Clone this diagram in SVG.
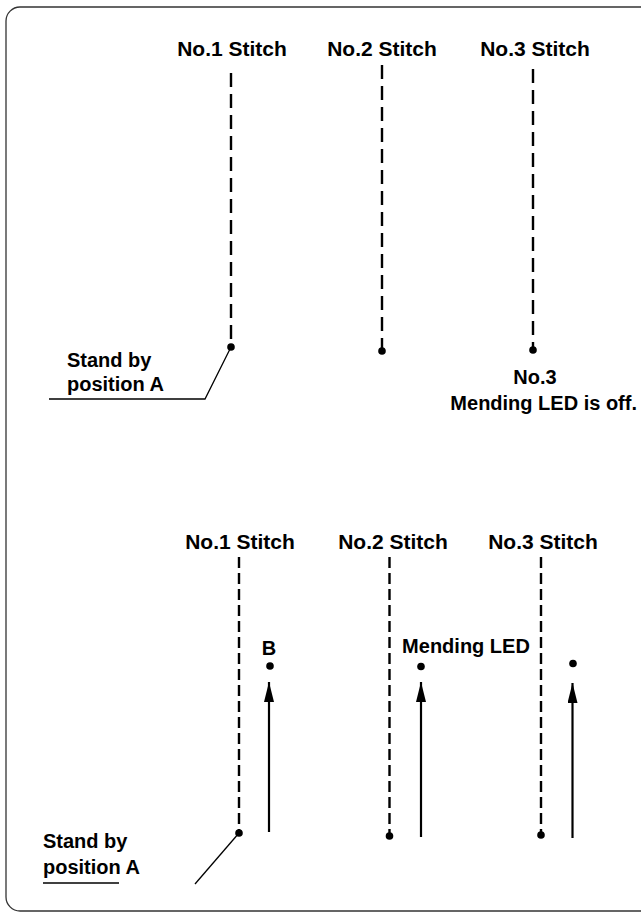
<svg xmlns="http://www.w3.org/2000/svg" width="641" height="914" viewBox="0 0 641 914">
<defs>
<style>
.frame{fill:none;stroke:#333;stroke-width:1.3}
.lbl{font-family:"Liberation Sans",Arial,sans-serif;font-weight:bold;font-size:20px;fill:#000}
.big{font-size:21px}
.mid{text-anchor:middle}
.dashT{stroke:#000;stroke-width:2.4;stroke-dasharray:14 7;fill:none}
.dashB{stroke:#000;stroke-width:2.4;stroke-dasharray:11 5;fill:none}
.lead{stroke:#000;stroke-width:1.3;fill:none}
.arr{stroke:#000;stroke-width:2.2;fill:none;marker-end:url(#ah)}
.dot{fill:#000}
</style>
<marker id="ah" viewBox="0 0 20 10" refX="20" refY="5" markerWidth="20" markerHeight="10" markerUnits="userSpaceOnUse" orient="auto">
<path d="M0,0 L20,5 L0,10 Z" fill="#000"/>
</marker>
</defs>
<rect class="frame" x="6" y="7" width="660" height="904" rx="14"/>

<g id="top-stitch1">
<text class="lbl big mid" x="232" y="56">No.1 Stitch</text>
</g>
<g id="top-stitch2">
<text class="lbl big mid" x="382" y="56">No.2 Stitch</text>
</g>
<g id="top-stitch3">
<text class="lbl big mid" x="535" y="56">No.3 Stitch</text>
</g>
<g id="top-standby">
<text class="lbl" x="67" y="367">Stand by</text>
<text class="lbl" x="67" y="391">position A</text>
</g>
<g id="top-led-off">
<text class="lbl mid" x="535" y="384">No.3</text>
<text class="lbl" x="637" y="410" text-anchor="end">Mending LED is off.</text>
</g>

<g id="bot-stitch1">
<text class="lbl big mid" x="240" y="549">No.1 Stitch</text>
</g>
<g id="bot-stitch2">
<text class="lbl big mid" x="393" y="549">No.2 Stitch</text>
</g>
<g id="bot-stitch3">
<text class="lbl big mid" x="543" y="549">No.3 Stitch</text>
</g>
<g id="bot-B">
<text class="lbl mid" x="269" y="655">B</text>
</g>
<g id="bot-mending">
<text class="lbl mid" x="466" y="653">Mending LED</text>
</g>
<g id="bot-standby">
<text class="lbl" x="43" y="848">Stand by</text>
<text class="lbl" x="43" y="874">position A</text>
</g>

<g id="connectors">
<line class="dashT" x1="231" y1="73" x2="231" y2="347"/>
<line class="dashT" x1="382" y1="65" x2="382" y2="351"/>
<line class="dashT" x1="533" y1="69" x2="533" y2="350"/>
<circle class="dot" cx="231" cy="347" r="3.8"/>
<circle class="dot" cx="382" cy="351" r="3.8"/>
<circle class="dot" cx="533" cy="350" r="3.8"/>
<polyline class="lead" points="231,347 205,399 49,399"/>

<line class="dashB" x1="239" y1="557" x2="239" y2="833"/>
<line class="dashB" x1="389.5" y1="557" x2="389.5" y2="836"/>
<line class="dashB" x1="541" y1="557" x2="541" y2="835"/>
<circle class="dot" cx="239" cy="833" r="3.8"/>
<circle class="dot" cx="389.5" cy="836" r="3.8"/>
<circle class="dot" cx="541" cy="835" r="3.8"/>
<line class="lead" x1="239" y1="833" x2="195" y2="884"/>
<line class="lead" x1="43" y1="883" x2="119" y2="883"/>

<line class="arr" x1="269" y1="832" x2="269" y2="682"/>
<line class="arr" x1="421" y1="837" x2="421" y2="682"/>
<line class="arr" x1="572.5" y1="838" x2="572.5" y2="683"/>
<circle class="dot" cx="270" cy="666" r="3.8"/>
<circle class="dot" cx="421" cy="666.5" r="3.8"/>
<circle class="dot" cx="573" cy="663.5" r="3.8"/>
</g>
</svg>
